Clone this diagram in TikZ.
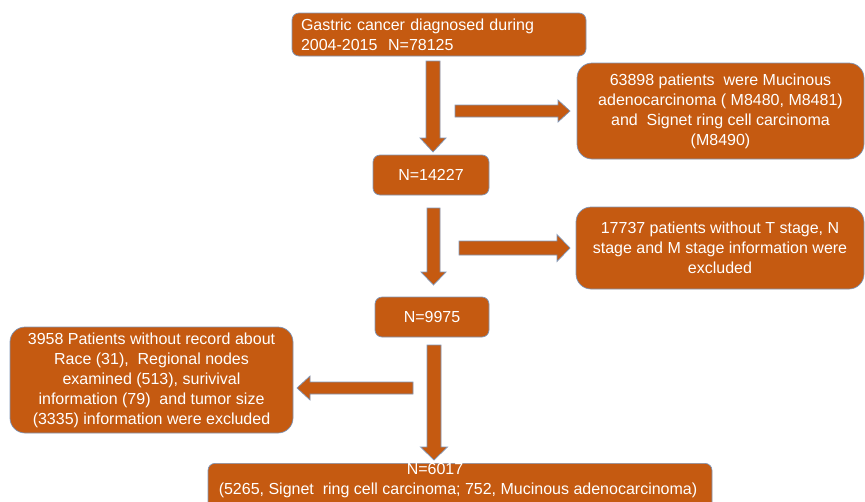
\documentclass[tikz,border=0pt]{standalone}
\usepackage{fontspec}
\setmainfont{Liberation Sans}
\definecolor{boxfill}{HTML}{C55A11}
\definecolor{boxline}{HTML}{7F96B8}
\newcommand\vblockarrow[6]{% xc, ytop, yhead, ytip, shaft half, head half
  \draw[blockarrow] ({#1-#5},#2) -- ({#1+#5},#2) -- ({#1+#5},#3) -- ({#1+#6},#3)
    -- (#1,#4) -- ({#1-#6},#3) -- ({#1-#5},#3) -- cycle;}
\newcommand\hblockarrow[6]{% yc, xtail, xhead, xtip, shaft half, head half
  \draw[blockarrow] (#2,{#1-#5}) -- (#3,{#1-#5}) -- (#3,{#1-#6}) -- (#4,#1)
    -- (#3,{#1+#6}) -- (#3,{#1+#5}) -- (#2,{#1+#5}) -- cycle;}
\begin{document}
\begin{tikzpicture}[x=1pt,y=-1pt,
  box/.style={draw=boxline, line width=0.7pt, fill=boxfill, text=white,
    font=\fontsize{16}{20}\selectfont, align=center, inner sep=0pt},
  blockarrow/.style={draw=boxline, line width=0.7pt, fill=boxfill}]
\useasboundingbox (0,0) rectangle (865,501);
\begin{scope}
\clip (0,0) rectangle (865,501);
\node[box, rounded corners=7pt, minimum width=294pt, minimum height=43pt,
  text width=276pt, align=left] (start) at (439,34.5)
  {Gastric cancer diagnosed during\\2004-2015\ \ N=78125};
\node[box, rounded corners=15pt, minimum width=287pt, minimum height=96pt] (ex1) at (720.5,111)
  {63898 patients\ \ were Mucinous\\adenocarcinoma ( M8480, M8481)\\and\ \ Signet ring cell carcinoma\\(M8490)};
\node[box, rounded corners=7pt, minimum width=116pt, minimum height=40pt] (n1) at (431,175) {N=14227};
\node[box, rounded corners=15pt, minimum width=288pt, minimum height=82pt] (ex2) at (720,248)
  {17737 patients without T stage, N\\stage and M stage information were\\excluded};
\node[box, rounded corners=7pt, minimum width=114pt, minimum height=40pt] (n2) at (432,317) {N=9975};
\node[box, rounded corners=15pt, minimum width=283pt, minimum height=106pt] (ex3) at (151.5,380)
  {3958 Patients without record about\\Race (31),\ \ Regional nodes\\examined (513), surivival\\information (79)\ \ and tumor size\\(3335) information were excluded};
\node[box, rounded corners=7pt, minimum width=504pt, minimum height=50pt, anchor=north] (final) at (460,463) {};
\node[text=white, font=\fontsize{16}{20}\selectfont, align=center, anchor=north, inner sep=0pt]
  (finaltext) at (458,463)
  {N=6017\hspace*{46pt}\\(5265, Signet\ \ ring cell carcinoma; 752, Mucinous adenocarcinoma)};
\vblockarrow{433}{61}{138}{152}{7}{13}
\hblockarrow{111}{455}{558}{570}{6}{11}
\vblockarrow{433.5}{208}{272}{285}{6.5}{12.5}
\hblockarrow{248}{459}{557}{570}{7}{13.5}
\vblockarrow{434}{345}{447}{460}{7}{13.5}
\hblockarrow{388}{413}{310}{297}{6}{12}
\end{scope}
\end{tikzpicture}
\end{document}
